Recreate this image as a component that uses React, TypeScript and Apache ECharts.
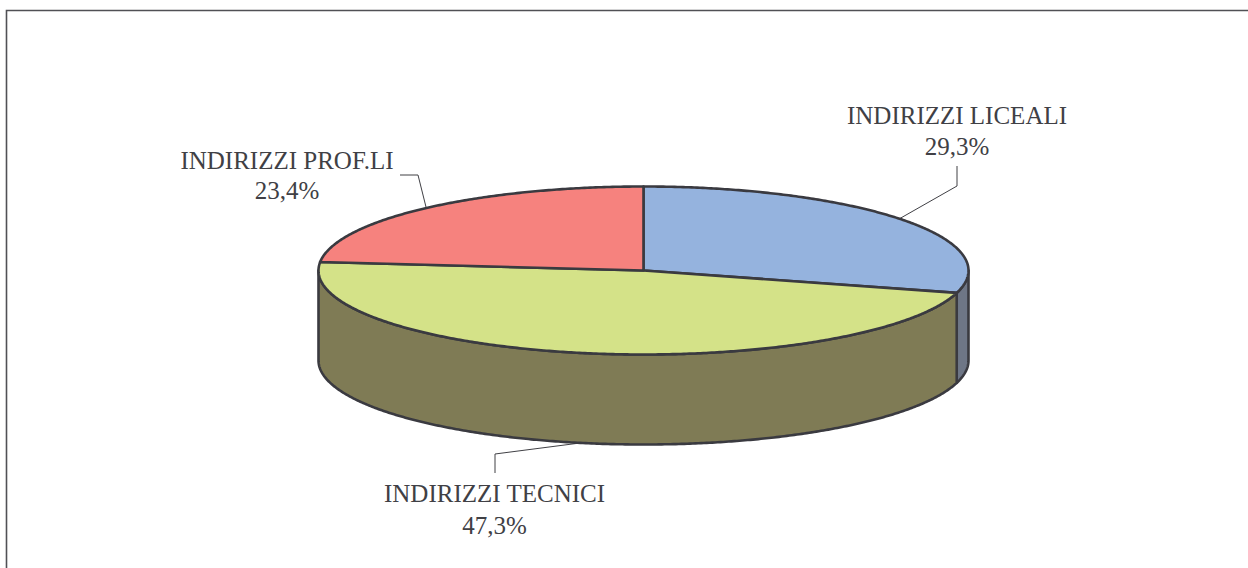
import React, { useEffect, useRef } from "react";
import * as echarts from "echarts";

const categories = ["INDIRIZZI LICEALI", "INDIRIZZI TECNICI", "INDIRIZZI PROF.LI"];
const values = [29.3, 47.3, 23.4];
const valueLabels = ["29,3%", "47,3%", "23,4%"];
const topColors = ["#95B3DE", "#D4E288", "#F6827E"];
const sideColors = ["#6E7686", "#7F7B55", "#8F5A58"];

const CX = 643.5, CY = 270.5, RX = 325, RY = 84, DEPTH = 90;
const STROKE = "#3A3A40";
const TWO_PI = Math.PI * 2;
const STEP = TWO_PI / 720;

const ex = (t: number) => CX + RX * Math.sin(t);
const ey = (t: number) => CY - RY * Math.cos(t);

// Points along the rim between two angles, with a vertical offset
function rim(t0: number, t1: number, dy: number) {
  const n = Math.max(2, Math.ceil(Math.abs(t1 - t0) / STEP));
  const pts: number[][] = [];
  for (let k = 0; k <= n; k++) {
    const t = t0 + ((t1 - t0) * k) / n;
    pts.push([ex(t), ey(t) + dy]);
  }
  return pts;
}

function slices() {
  const total = values.reduce((a, b) => a + b, 0);
  let acc = 0;
  return values.map((v) => {
    const t0 = (acc / total) * TWO_PI;
    acc += v;
    return { t0, t1: (acc / total) * TWO_PI };
  });
}

function renderItem(params: any) {
  const i = params.dataIndex;
  const { t0, t1 } = slices()[i];
  const children: any[] = [];
  // visible wall: the front of the rim runs from t = PI/2 to t = 3PI/2
  const a = Math.max(t0, Math.PI / 2);
  const b = Math.min(t1, (3 * Math.PI) / 2);
  if (b > a) {
    children.push({
      type: "polygon",
      shape: { points: [...rim(a, b, 0), ...rim(b, a, DEPTH)] },
      style: { fill: sideColors[i], stroke: STROKE, lineWidth: 2.6, lineJoin: "round" },
    });
  }
  children.push({
    type: "polygon",
    shape: { points: [[CX, CY], ...rim(t0, t1, 0)] },
    style: { fill: topColors[i], stroke: STROKE, lineWidth: 2.6, lineJoin: "round" },
  });
  return { type: "group", children };
}

const leaderLiceali = [[899, 219], [957, 186], [957, 166]];
const leaderTecnici = [[580, 443], [495, 454], [495, 473]];
const leaderProf = [[426, 207], [418, 175], [400, 175]];

function label(text: string, x: number, y: number) {
  return {
    type: "text",
    x,
    y,
    silent: true,
    style: {
      text,
      fontFamily: "'Liberation Serif', serif",
      fontSize: 25,
      fill: "#404045",
      textAlign: "center",
      textVerticalAlign: "middle",
    },
  };
}

function leader(points: number[][]) {
  return {
    type: "polyline",
    silent: true,
    shape: { points },
    style: { stroke: "#404045", lineWidth: 1, fill: "none" },
  };
}

export default function App() {
  const ref = useRef<HTMLDivElement>(null);
  useEffect(() => {
    const chart = echarts.init(ref.current!, undefined, { renderer: "svg" });
    chart.setOption({
      animation: false,
      backgroundColor: "#ffffff",
      series: [
        {
          type: "custom",
          coordinateSystem: "none",
          renderItem,
          data: values.map((v, i) => ({ name: categories[i], value: v })),
          silent: true,
        },
      ],
      graphic: [
        {
          type: "polyline",
          silent: true,
          shape: { points: [[6.5, 568], [6.5, 10.5], [1248, 10.5]] },
          style: { fill: "none", stroke: "#505055", lineWidth: 1.6 },
        },
        leader(leaderLiceali),
        leader(leaderTecnici),
        leader(leaderProf),
        label(categories[0], 957, 115),
        label(valueLabels[0], 957, 146),
        label(categories[1], 494.5, 493),
        label(valueLabels[1], 494.5, 525),
        label(categories[2], 287, 160),
        label(valueLabels[2], 287, 190),
      ],
    });
    return () => chart.dispose();
  }, []);
  return (
    <div
      ref={ref}
      style={{ position: "fixed", left: 0, top: 0, width: 1248, height: 568 }}
    />
  );
}
